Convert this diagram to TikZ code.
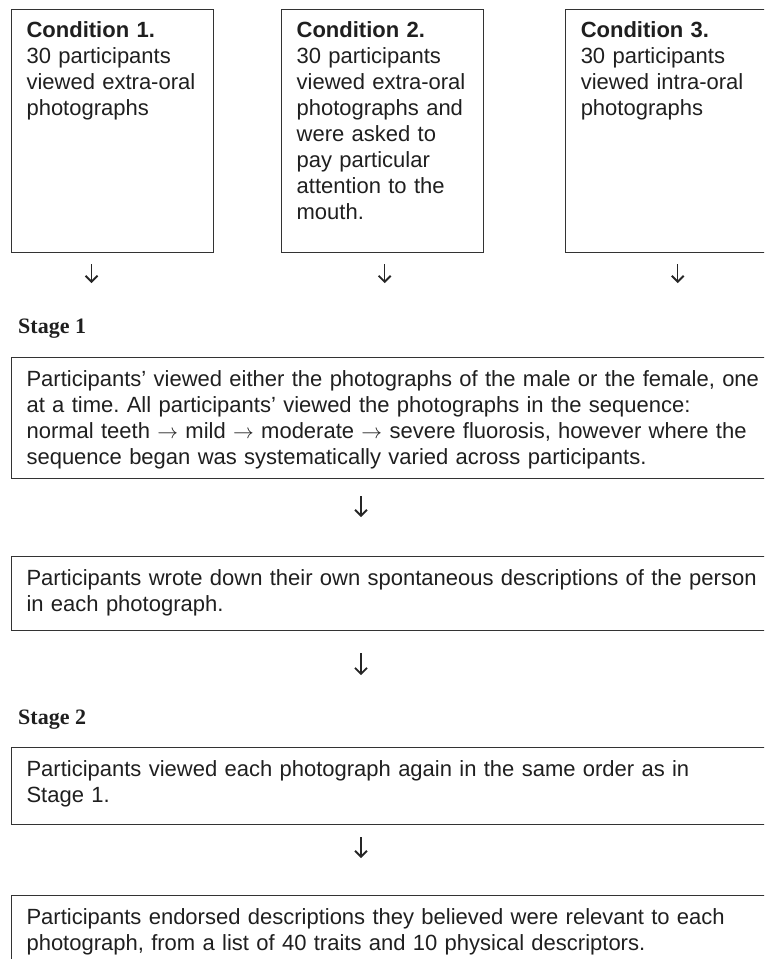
\documentclass[tikz,border=0pt]{standalone}
\usepackage{fontspec}
\setmainfont{Liberation Sans}
\newfontfamily\stagefont{Liberation Serif}
\usetikzlibrary{positioning, arrows.meta}
\frenchspacing
\tikzset{
    condbox/.style={rectangle, draw=black!80, line width=1.1pt, text=black!88, anchor=north west, text width=172pt, inner xsep=15pt, inner ysep=0pt, text height=28pt, text depth=215pt, align=left, font=\fontsize{22}{26}\selectfont},
    stagebox/.style={rectangle, draw=black!80, line width=1.1pt, text=black!88, anchor=north west, text width=745pt, inner xsep=15pt, inner ysep=0pt, text height=29pt, align=left, font=\fontsize{22}{26}\selectfont},
    stagelabel/.style={anchor=base west, inner sep=0pt, text=black!88, font=\stagefont\bfseries\fontsize{22}{24}\selectfont},
    arrow/.style={line width=1.3pt, draw=black!85, -{Straight Barb[length=6pt,width=12pt,line width=1.9pt]}}
}

\begin{document}
\begin{tikzpicture}
    \useasboundingbox (0,0) rectangle (764pt,-959pt);
    \clip (0,0) rectangle (764pt,-959pt);

    % Conditions
    \node (c1) [condbox] at (11pt,-9pt) {{\bfseries Condition 1.}\\30 participants\\viewed extra-oral\\photographs};
    \node (c2) [condbox, right=67pt of c1] {{\bfseries Condition 2.}\\30 participants\\viewed extra-oral\\photographs and\\were asked to\\pay particular\\attention to the\\mouth.};
    \node (c3) [condbox, right=81pt of c2] {{\bfseries Condition 3.}\\30 participants\\viewed intra-oral\\photographs};

    % Stage 1
    \node (stage1) [stagelabel] at (18pt,-333pt) {Stage 1};
    \node (s1) [stagebox, text depth=92pt] at (11pt,-357pt) {Participants’ viewed either the photographs of the male or the female, one\\at a time. All participants’ viewed the photographs in the sequence:\\normal teeth $\rightarrow$ mild $\rightarrow$ moderate $\rightarrow$ severe fluorosis, however where the\\sequence began was systematically varied across participants.};
    \node (s2) [stagebox, text depth=45pt, below=77pt of s1] {Participants wrote down their own spontaneous descriptions of the person\\in each photograph.};

    % Stage 2
    \node (stage2) [stagelabel] at (18pt,-724pt) {Stage 2};
    \node (s3) [stagebox, text depth=48pt] at (11pt,-747pt) {Participants viewed each photograph again in the same order as in\\Stage 1.};
    \node (s4) [stagebox, text depth=70pt, below=70pt of s3] {Participants endorsed descriptions they believed were relevant to each\\photograph, from a list of 40 traits and 10 physical descriptors.};

    % Arrows
    \coordinate (ax) at (361pt,0);
    \draw [arrow] ([xshift=-21pt,yshift=-11pt]c1.south) -- ++(0,-19pt);
    \draw [arrow] ([xshift=2pt,yshift=-11pt]c2.south) -- ++(0,-19pt);
    \draw [arrow] ([xshift=11pt,yshift=-11pt]c3.south) -- ++(0,-19pt);
    \draw [arrow] ([yshift=-17pt]s1.south -| ax) -- ++(0,-21pt);
    \draw [arrow] ([yshift=-22pt]s2.south -| ax) -- ++(0,-22pt);
    \draw [arrow] ([yshift=-12pt]s3.south -| ax) -- ++(0,-21pt);
\end{tikzpicture}
\end{document}
